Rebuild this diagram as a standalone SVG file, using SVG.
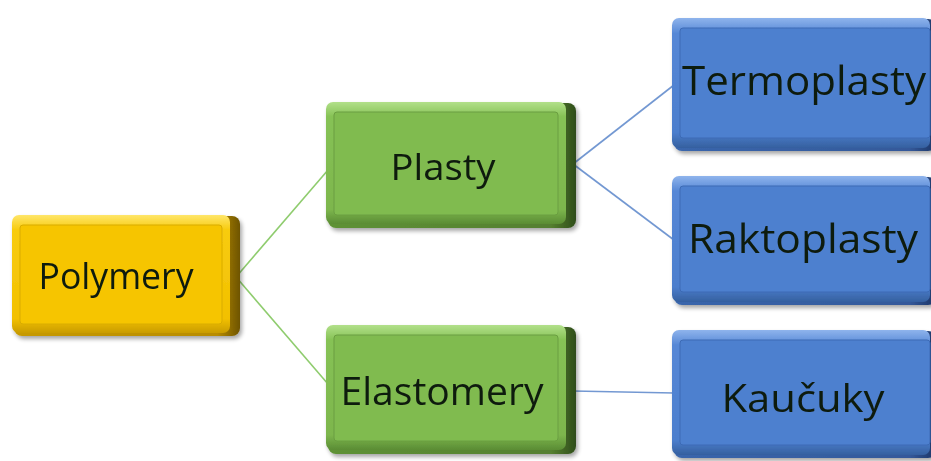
<svg xmlns="http://www.w3.org/2000/svg" width="931" height="461" viewBox="0 0 931 461">
  <defs>
    <style>
      .lbl { font-family: "Open Sans", "Noto Sans", "Liberation Sans", sans-serif; fill: #111a10; text-anchor: middle; }
      .link-g { stroke: #8fcc6e; stroke-width: 1.6; fill: none; }
      .link-b { stroke: #7398d2; stroke-width: 1.6; fill: none; }
    </style>
    <!-- yellow box shading -->
    <linearGradient id="yEdge" x1="0" y1="0" x2="1" y2="0">
      <stop offset="0" stop-color="#c79a00"/>
      <stop offset="0.9" stop-color="#b88c00"/>
      <stop offset="1" stop-color="#6e5400"/>
    </linearGradient>
    <linearGradient id="yBevel" x1="0" y1="0" x2="0" y2="1">
      <stop offset="0" stop-color="#ffe66a"/>
      <stop offset="0.12" stop-color="#f8cc10"/>
      <stop offset="0.88" stop-color="#f2c000"/>
      <stop offset="1" stop-color="#c99c00"/>
    </linearGradient>
    <!-- green box shading -->
    <linearGradient id="gEdge" x1="0" y1="0" x2="1" y2="0">
      <stop offset="0" stop-color="#5e9236"/>
      <stop offset="0.9" stop-color="#557f30"/>
      <stop offset="1" stop-color="#2f4d1a"/>
    </linearGradient>
    <linearGradient id="gBevel" x1="0" y1="0" x2="0" y2="1">
      <stop offset="0" stop-color="#b2e08a"/>
      <stop offset="0.12" stop-color="#86c255"/>
      <stop offset="0.88" stop-color="#7db64d"/>
      <stop offset="1" stop-color="#5a8c34"/>
    </linearGradient>
    <!-- blue box shading -->
    <linearGradient id="bEdge" x1="0" y1="0" x2="1" y2="0">
      <stop offset="0" stop-color="#3a66ac"/>
      <stop offset="0.9" stop-color="#34599a"/>
      <stop offset="1" stop-color="#1c3566"/>
    </linearGradient>
    <linearGradient id="bBevel" x1="0" y1="0" x2="0" y2="1">
      <stop offset="0" stop-color="#8fb4ec"/>
      <stop offset="0.12" stop-color="#5587d6"/>
      <stop offset="0.88" stop-color="#4c7ecd"/>
      <stop offset="1" stop-color="#35609f"/>
    </linearGradient>
    <filter id="soft" x="-5%" y="-5%" width="110%" height="115%">
      <feGaussianBlur in="SourceAlpha" stdDeviation="2"/>
      <feOffset dx="2" dy="3"/>
      <feComponentTransfer><feFuncA type="linear" slope="0.35"/></feComponentTransfer>
      <feMerge><feMergeNode/><feMergeNode in="SourceGraphic"/></feMerge>
    </filter>
  </defs>

  <rect width="931" height="461" fill="#ffffff"/>

  <!-- connectors -->
  <g id="connectors">
    <line class="link-g" x1="236" y1="277" x2="328" y2="170"/>
    <line class="link-g" x1="236" y1="277" x2="328" y2="384"/>
    <line class="link-b" x1="573" y1="164" x2="674" y2="85"/>
    <line class="link-b" x1="573" y1="164" x2="674" y2="240"/>
    <line class="link-b" x1="573" y1="391" x2="674" y2="393"/>
  </g>

  <!-- Polymery -->
  <g id="node-polymery" filter="url(#soft)">
    <rect x="14" y="216" width="226" height="120" rx="8" fill="url(#yEdge)"/>
    <rect x="12" y="215" width="218" height="118" rx="7" fill="url(#yBevel)"/>
    <rect x="20" y="225" width="202" height="99" rx="3" fill="#f6c500" stroke="#d9ac00" stroke-width="1"/>
    <text class="lbl" x="116" y="289" font-size="36" textLength="155" lengthAdjust="spacingAndGlyphs">Polymery</text>
  </g>

  <!-- Plasty -->
  <g id="node-plasty" filter="url(#soft)">
    <rect x="328" y="103" width="248" height="125" rx="8" fill="url(#gEdge)"/>
    <rect x="326" y="102" width="240" height="122" rx="7" fill="url(#gBevel)"/>
    <rect x="334" y="112" width="224" height="103" rx="3" fill="#80bb50" stroke="#6a9e40" stroke-width="1"/>
    <text class="lbl" x="443" y="180" font-size="36" textLength="105" lengthAdjust="spacingAndGlyphs">Plasty</text>
  </g>

  <!-- Elastomery -->
  <g id="node-elastomery" filter="url(#soft)">
    <rect x="328" y="327" width="248" height="127" rx="8" fill="url(#gEdge)"/>
    <rect x="326" y="325" width="240" height="125" rx="7" fill="url(#gBevel)"/>
    <rect x="334" y="335" width="224" height="106" rx="3" fill="#80bb50" stroke="#6a9e40" stroke-width="1"/>
    <text class="lbl" x="442" y="405" font-size="38" textLength="203" lengthAdjust="spacingAndGlyphs">Elastomery</text>
  </g>

  <!-- Termoplasty -->
  <g id="node-termoplasty" filter="url(#soft)">
    <rect x="674" y="19" width="262" height="132" rx="8" fill="url(#bEdge)"/>
    <rect x="672" y="18" width="258" height="130" rx="7" fill="url(#bBevel)"/>
    <rect x="680" y="28" width="250" height="110" rx="3" fill="#4e80cf" stroke="#3d6bb5" stroke-width="1"/>
    <text class="lbl" x="804" y="95" font-size="40" textLength="244" lengthAdjust="spacingAndGlyphs">Termoplasty</text>
  </g>

  <!-- Raktoplasty -->
  <g id="node-raktoplasty" filter="url(#soft)">
    <rect x="674" y="177" width="262" height="128" rx="8" fill="url(#bEdge)"/>
    <rect x="672" y="176" width="258" height="126" rx="7" fill="url(#bBevel)"/>
    <rect x="680" y="186" width="250" height="106" rx="3" fill="#4e80cf" stroke="#3d6bb5" stroke-width="1"/>
    <text class="lbl" x="803" y="253" font-size="40" textLength="230" lengthAdjust="spacingAndGlyphs">Raktoplasty</text>
  </g>

  <!-- Kaučuky -->
  <g id="node-kaucuky" filter="url(#soft)">
    <rect x="674" y="331" width="262" height="127" rx="8" fill="url(#bEdge)"/>
    <rect x="672" y="330" width="258" height="125" rx="7" fill="url(#bBevel)"/>
    <rect x="680" y="340" width="250" height="105" rx="3" fill="#4e80cf" stroke="#3d6bb5" stroke-width="1"/>
    <text class="lbl" x="803" y="412" font-size="38" textLength="163" lengthAdjust="spacingAndGlyphs">Kaučuky</text>
  </g>
</svg>
